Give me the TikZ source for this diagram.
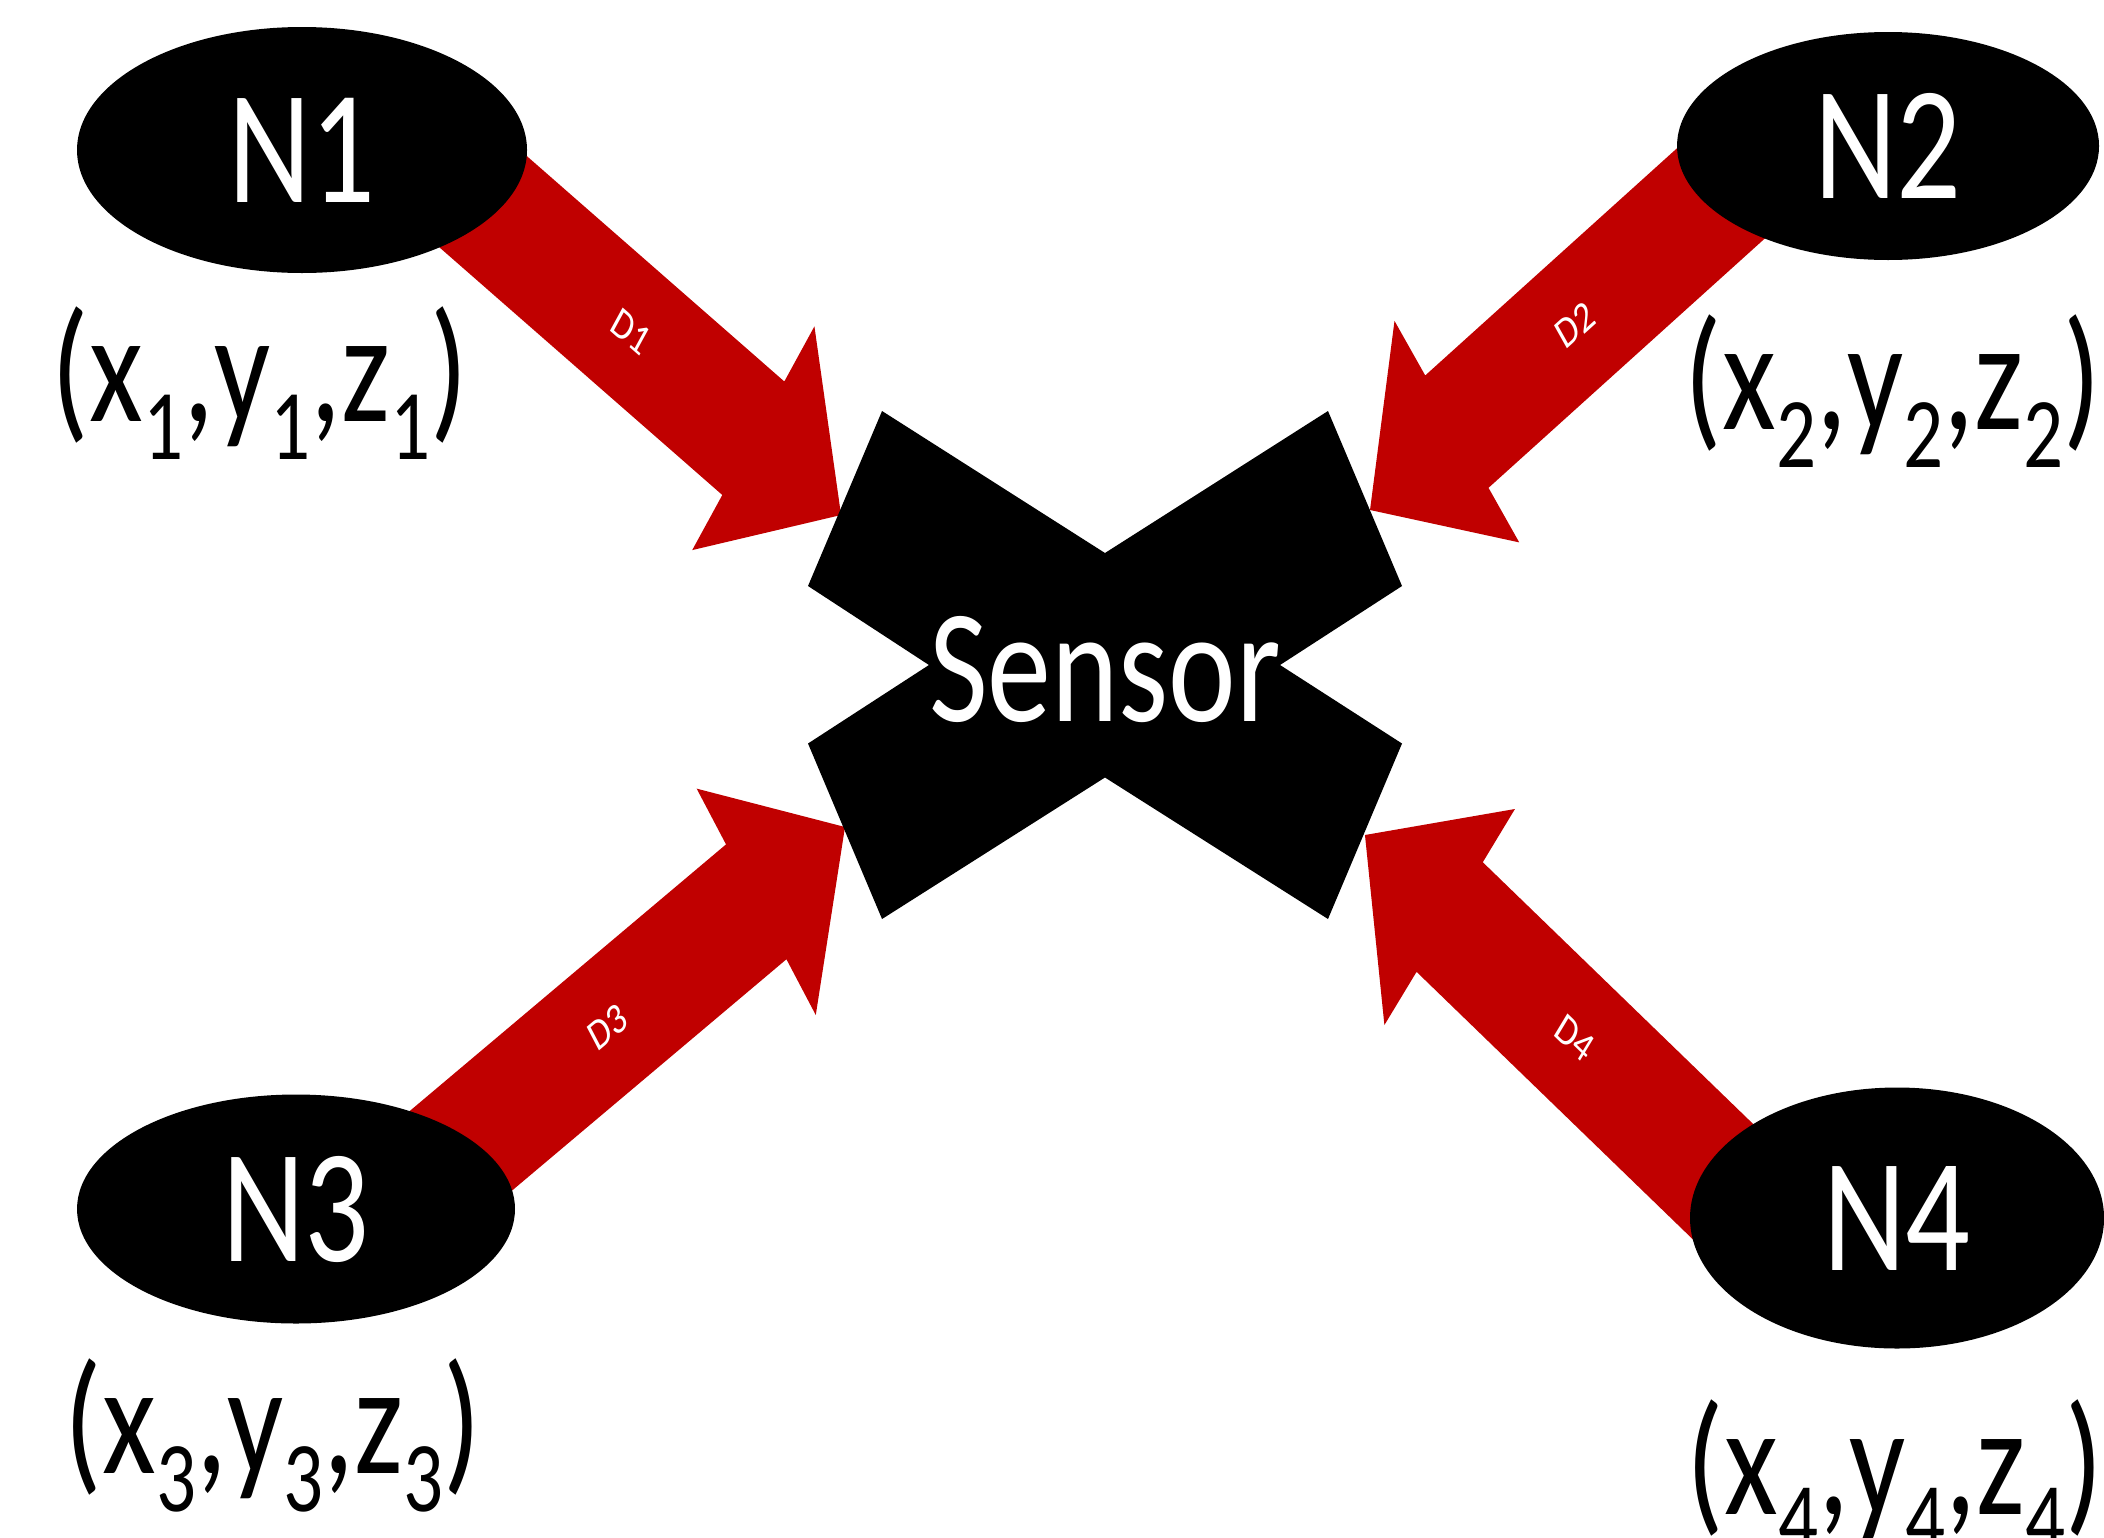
\documentclass[tikz,border=0pt]{standalone}
\usepackage{fontspec}
\setmainfont{Carlito}
\usetikzlibrary{calc,shapes.geometric}

\definecolor{arrowred}{RGB}{192,0,0}

% lowered index digit
\newcommand\lowidx[1]{\raisebox{-38pt}{\fontsize{100}{100}\selectfont #1}}
\newcommand\coordtext[1]{(x\lowidx{#1},y\lowidx{#1},z\lowidx{#1})}

\tikzset{
  station/.style={ellipse, fill=black, inner sep=0pt, text=white,
    font=\fontsize{162}{162}\selectfont},
  coordlabel/.style={anchor=base, inner sep=0pt, text=black,
    font=\fontsize{157}{157}\selectfont},
  dlabel/.style={text=white, inner sep=0pt,
    font=\fontsize{44}{44}\selectfont},
  sensorlabel/.style={anchor=base, inner sep=0pt, text=white,
    font=\fontsize{162}{162}\selectfont},
}

% block arrow: #1 tail, #2 tip, #3 label, #4 label position, #5 label angle
\newcommand\blockarrow[5]{%
  \coordinate (#2-base) at ($(#2)!135pt!(#1)$);
  \fill[arrowred] ($(#1)!69pt!90:(#2)$) -- ($(#2-base)!69pt!90:(#2)$)
    -- ($(#2-base)!136pt!90:(#2)$) -- (#2)
    -- ($(#2-base)!136pt!-90:(#2)$) -- ($(#2-base)!69pt!-90:(#2)$)
    -- ($(#1)!69pt!-90:(#2)$) -- cycle;
  \path (#1) -- (#2) node[dlabel, pos=#4, rotate=#5] (#2-label) {#3};
}

\begin{document}
\begin{tikzpicture}[x=1pt,y=-1pt]
\fill[white] (0,0) rectangle (2104,1537);
\useasboundingbox (0,0) rectangle (2104,1537);

% the whole drawing is laid out wide and narrowed horizontally
\begin{scope}[transform canvas={xscale=0.79}]

% arrow ends
\coordinate (t1) at (557,164);    \coordinate (s1) at (1064.6,515);
\coordinate (t2) at (2239.2,150); \coordinate (s2) at (1734.2,510);
\coordinate (t3) at (520,1193);   \coordinate (s3) at (1069.6,827);
\coordinate (t4) at (2246.8,1232);\coordinate (s4) at (1727.8,835);

\blockarrow{t1}{s1}{D1}{0.477}{-34.7}
\blockarrow{t2}{s2}{D2}{0.486}{35.5}
\blockarrow{t3}{s3}{D3}{0.453}{33.6}
\blockarrow{t4}{s4}{D4}{0.488}{-37.4}

% anchor nodes
\node[station, minimum width=569.6pt, minimum height=246pt] (n1) at (382.3,150) {N1};
\node[station, minimum width=534.2pt, minimum height=228pt] (n2) at (2389.9,146) {N2};
\node[station, minimum width=554.4pt, minimum height=229pt] (n3) at (374.7,1209) {N3};
\node[station, minimum width=524.1pt, minimum height=261pt] (n4) at (2401.3,1218) {N4};

% sensor cross
\fill[black] (1116.5,411) -- (1398.7,553) -- (1681,411) -- (1774.7,586)
  -- (1620.3,665) -- (1774.7,743.5) -- (1681,919) -- (1398.7,777.5)
  -- (1116.5,919) -- (1022.8,743.5) -- (1175.9,665) -- (1022.8,586) -- cycle;
\node[sensorlabel] (sensor) at (1398.7,721) {Sensor};

% positions
\node[coordlabel] (p1) at (329.1,421)  {\coordtext{1}};
\node[coordlabel] (p2) at (2396.2,429) {\coordtext{2}};
\node[coordlabel] (p3) at (345.6,1473) {\coordtext{3}};
\node[coordlabel] (p4) at (2398.7,1514) {\coordtext{4}};

\end{scope}
\end{tikzpicture}
\end{document}
